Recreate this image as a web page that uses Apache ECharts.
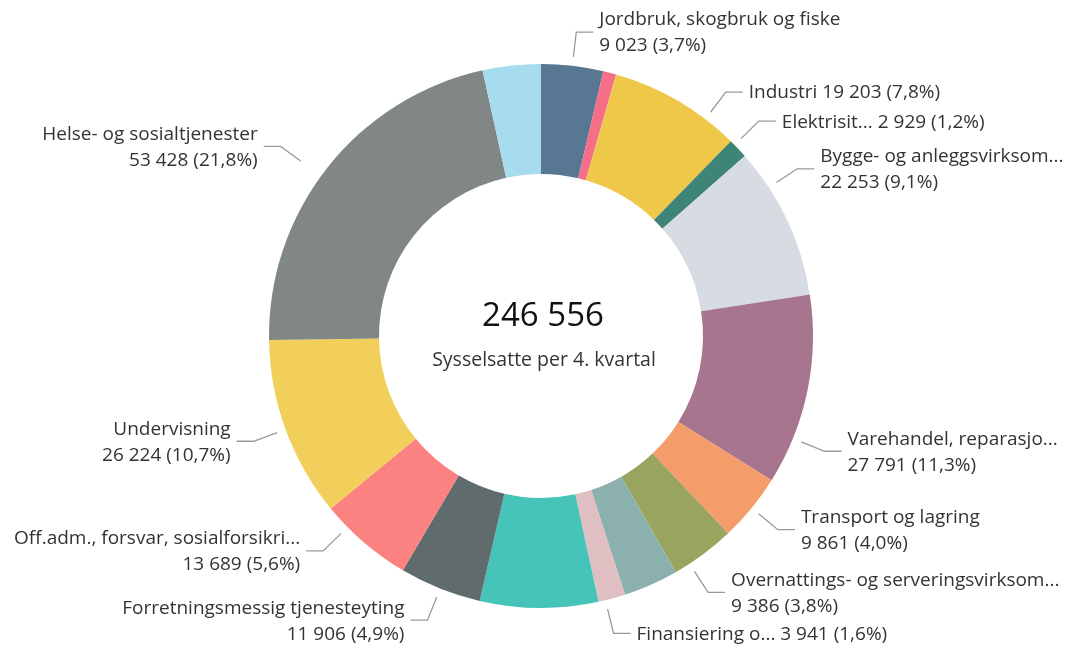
<!DOCTYPE html>
<html>
<head>
<meta charset="utf-8">
<script src="https://cdn.jsdelivr.net/npm/echarts@6/dist/echarts.min.js"></script>
<style>
  html, body {margin: 0; padding: 0; background: #fff;}
  #chart {width: 1076px; height: 648px;}
</style>
</head>
<body>
<div id="chart"></div>
<script>
// næringer, med klokka fra toppen
const categories = [
  'Jordbruk, skogbruk og fiske',
  'Bergverksdrift og utvinning',
  'Industri',
  'Elektrisitet, vann og renovasjon',
  'Bygge- og anleggsvirksomhet',
  'Varehandel, reparasjon av motorvogner',
  'Transport og lagring',
  'Overnattings- og serveringsvirksomhet',
  'Informasjon og kommunikasjon',
  'Finansiering og forsikring',
  'Teknisk tjenesteyting, eiendomsdrift',
  'Forretningsmessig tjenesteyting',
  'Off.adm., forsvar, sosialforsikring',
  'Undervisning',
  'Helse- og sosialtjenester',
  'Personlig tjenesteyting'
];
// sysselsatte per 4. kvartal
const values = [9023, 1900, 19203, 2929, 22253, 27791, 9861, 9386, 7970, 3941, 17200, 11906, 13689, 26224, 53428, 8450];
// tekst slik den vises i etikettene ('' = ingen etikett)
const labelNames = [
  'Jordbruk, skogbruk og fiske',
  '',
  'Industri',
  'Elektrisit...',
  'Bygge- og anleggsvirksom...',
  'Varehandel, reparasjo...',
  'Transport og lagring',
  'Overnattings- og serveringsvirksom...',
  '',
  'Finansiering o...',
  '',
  'Forretningsmessig tjenesteyting',
  'Off.adm., forsvar, sosialforsikri...',
  'Undervisning',
  'Helse- og sosialtjenester',
  ''
];
// etiketter på én linje
const singleLine = ['Industri', 'Elektrisitet, vann og renovasjon', 'Finansiering og forsikring'];
const colors = ['#577793', '#f56f88', '#efc84a', '#3f8577', '#d7dce2', '#a8758f', '#f49d6b', '#99a45f',
  '#8cb0ad', '#dfbfc1', '#47c4b9', '#5f6b6c', '#fb8281', '#f2cf5a', '#808786', '#a6dcee'];
// tallet i midten (alle sysselsatte)
const totalEmployed = 246556;
const centerCaption = 'Sysselsatte per 4. kvartal';

const total = values.reduce((a, b) => a + b, 0);
const fmt = v => String(v).replace(/\B(?=(\d{3})+(?!\d))/g, ' ');
const pct = v => (v / total * 100).toFixed(1).replace('.', ',') + '%';

const FONT = '"Open Sans", "Noto Sans", sans-serif';
const cx = 541, cy = 336;
const R_OUT = 272, R_IN = 162;

// etikettlinjer: litt forskjøvet fra midten av sektoren slik at de ikke kolliderer (grader)
const labelAngleShift = {
  'Industri': 7,
  'Elektrisitet, vann og renovasjon': -1,
  'Bygge- og anleggsvirksomhet': -8,
  'Varehandel, reparasjon av motorvogner': 10.5,
  'Overnattings- og serveringsvirksomhet': 3.5,
  'Finansiering og forsikring': 1.4,
  'Off.adm., forsvar, sosialforsikring': 4.8,
  'Helse- og sosialtjenester': -2.3
};
const labelGapShift = {'Helse- og sosialtjenester': 16};
const LINE_GAP = 9, LINE1 = 25, LINE2 = 17, TEXT_GAP = 6;

// midtvinkel for hver sektor, med klokka fra toppen
const midShare = [];
values.reduce((acc, v) => { midShare.push((acc + v / 2) / total); return acc + v; }, 0);

const layoutLabel = (params) => {
  const i = params.dataIndex;
  const name = categories[i];
  const deg = midShare[i] * 360 + (labelAngleShift[name] || 0);
  const a = deg * Math.PI / 180;
  const sx = Math.sin(a), sy = -Math.cos(a);
  const r0 = R_OUT + LINE_GAP + (labelGapShift[name] || 0);
  const r1 = r0 + LINE1;
  const right = sx >= 0;
  const p0 = [cx + r0 * sx, cy + r0 * sy];
  const p1 = [cx + r1 * sx, cy + r1 * sy];
  const p2 = [p1[0] + (right ? LINE2 : -LINE2), p1[1]];
  return {
    x: p2[0] + (right ? TEXT_GAP : -TEXT_GAP),
    y: p2[1] + 1,
    align: right ? 'left' : 'right',
    verticalAlign: 'middle',
    labelLinePoints: [p0, p1, p2]
  };
};

const myChart = echarts.init(document.getElementById('chart'));
myChart.setOption({
  animation: false,
  color: colors,
  textStyle: {fontFamily: FONT},
  graphic: [
    {
      type: 'text',
      style: {text: fmt(totalEmployed), x: cx + 2, y: 317, align: 'center', verticalAlign: 'middle',
        font: '33px ' + FONT, fill: '#111'}
    },
    {
      type: 'text',
      style: {text: centerCaption, x: cx + 3, y: 360, align: 'center', verticalAlign: 'middle',
        font: '19.5px ' + FONT, fill: '#333'}
    }
  ],
  series: [
    {
      type: 'pie',
      center: [cx, cy],
      radius: [R_IN, R_OUT],
      startAngle: 90,
      clockwise: true,
      silent: true,
      label: {
        show: true,
        color: '#333',
        fontSize: 19,
        lineHeight: 26,
        overflow: 'none',
        formatter: p => {
          const sep = singleLine.includes(p.name) ? ' ' : '\n';
          return labelNames[p.dataIndex] + sep + fmt(p.value) + ' (' + pct(p.value) + ')';
        }
      },
      labelLine: {show: true, length: LINE1, length2: LINE2, lineStyle: {color: '#999', width: 1.3}},
      labelLayout: layoutLabel,
      data: categories.map((name, i) => ({
        name, value: values[i],
        label: {show: labelNames[i] !== ''},
        labelLine: {show: labelNames[i] !== ''}
      }))
    }
  ]
});
</script>
</body>
</html>
